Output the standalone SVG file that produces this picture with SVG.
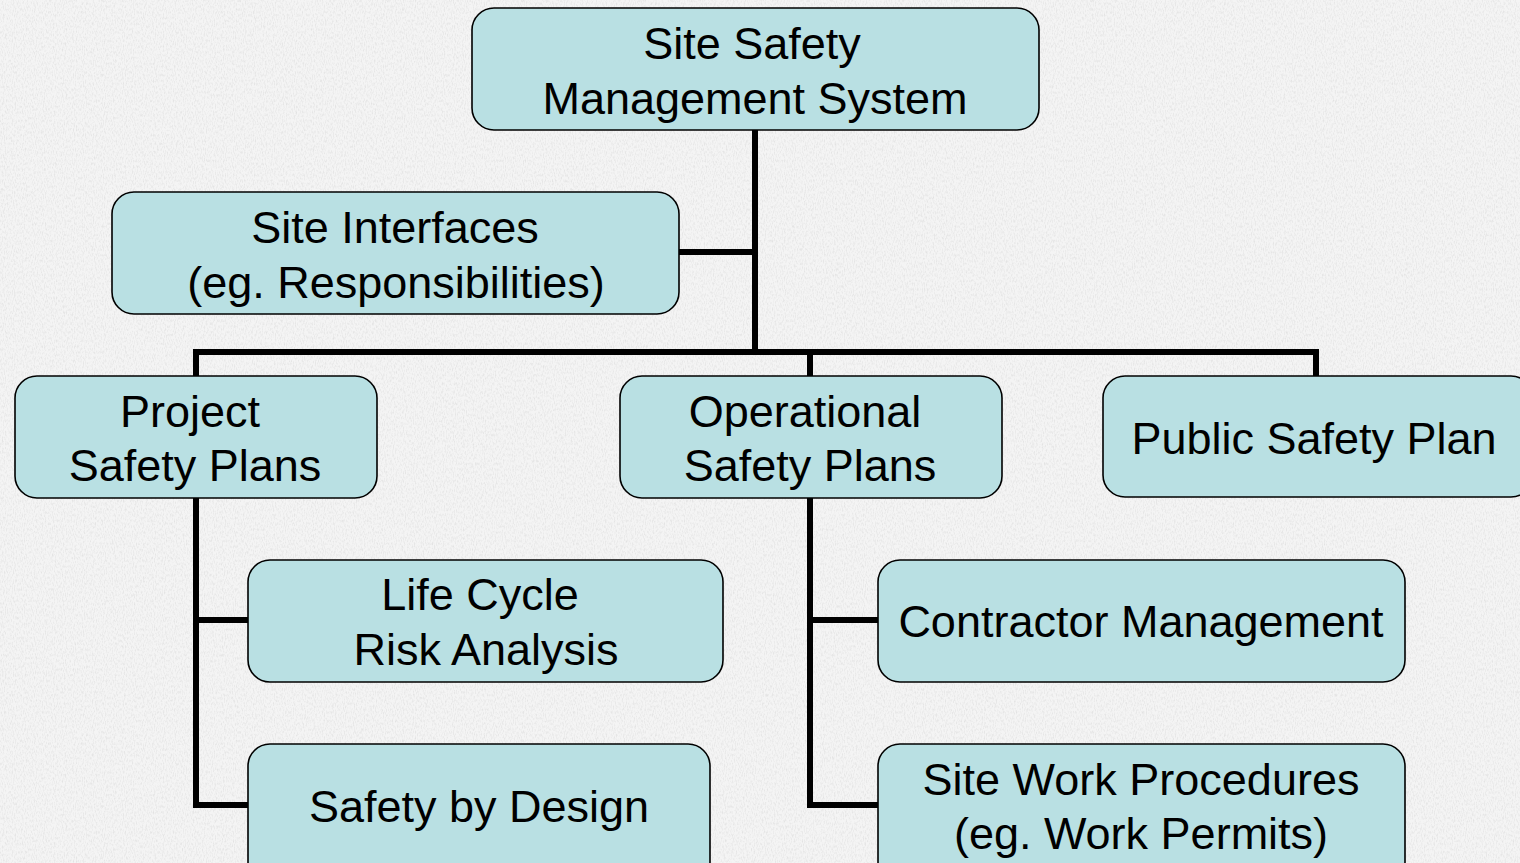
<svg xmlns="http://www.w3.org/2000/svg" width="1520" height="863" viewBox="0 0 1520 863">
<defs>
<filter id="noise" x="0" y="0" width="100%" height="100%">
<feTurbulence type="fractalNoise" baseFrequency="0.9 0.35" numOctaves="2" seed="3" result="t"/>
<feColorMatrix in="t" type="matrix" values="0 0 0 0 0.55  0 0 0 0 0.55  0 0 0 0 0.55  0 0 0 -2.2 1.25"/>
</filter>
<style>
.box{fill:#b9e0e3;stroke:#000;stroke-width:1.6}
.lbl{font-family:"Liberation Sans",Arial,sans-serif;font-size:45px;fill:#000;text-anchor:middle}
.con{fill:none;stroke:#000;stroke-width:6;stroke-linejoin:miter;stroke-linecap:butt}
</style>
</defs>
<rect width="1520" height="863" fill="#f4f4f4"/>
<rect width="1520" height="863" filter="url(#noise)" opacity="0.35"/>
<g id="connectors" class="con">
<path d="M755,130 V352"/>
<path d="M679,252 H755"/>
<path d="M196,376 V352 H1316 V376"/>
<path d="M810,352 V376"/>
<path d="M248,620 H196 V498"/>
<path d="M196,620 V805 H248"/>
<path d="M878,620 H810 V498"/>
<path d="M810,620 V805 H878"/>
</g>
<g id="site-safety-management-system">
<rect class="box" x="472" y="8" width="567" height="122" rx="22"/>
<text class="lbl" x="752" y="59">Site Safety</text>
<text class="lbl" x="755" y="114">Management System</text>
</g>
<g id="site-interfaces">
<rect class="box" x="112" y="192" width="567" height="122" rx="22"/>
<text class="lbl" x="395" y="243">Site Interfaces</text>
<text class="lbl" x="396" y="298">(eg. Responsibilities)</text>
</g>
<g id="project-safety-plans">
<rect class="box" x="15" y="376" width="362" height="122" rx="22"/>
<text class="lbl" x="190" y="427">Project</text>
<text class="lbl" x="195" y="481">Safety Plans</text>
</g>
<g id="operational-safety-plans">
<rect class="box" x="620" y="376" width="382" height="122" rx="22"/>
<text class="lbl" x="805" y="427">Operational</text>
<text class="lbl" x="810" y="481">Safety Plans</text>
</g>
<g id="public-safety-plan">
<rect class="box" x="1103" y="376" width="430" height="121" rx="22"/>
<text class="lbl" x="1314" y="454">Public Safety Plan</text>
</g>
<g id="life-cycle-risk-analysis">
<rect class="box" x="248" y="560" width="475" height="122" rx="22"/>
<text class="lbl" x="480" y="610">Life Cycle</text>
<text class="lbl" x="486" y="665">Risk Analysis</text>
</g>
<g id="safety-by-design">
<rect class="box" x="248" y="744" width="462" height="140" rx="22"/>
<text class="lbl" x="479" y="822">Safety by Design</text>
</g>
<g id="contractor-management">
<rect class="box" x="878" y="560" width="527" height="122" rx="22"/>
<text class="lbl" x="1141" y="637">Contractor Management</text>
</g>
<g id="site-work-procedures">
<rect class="box" x="878" y="744" width="527" height="140" rx="22"/>
<text class="lbl" x="1141" y="795">Site Work Procedures</text>
<text class="lbl" x="1141" y="849">(eg. Work Permits)</text>
</g>
</svg>
